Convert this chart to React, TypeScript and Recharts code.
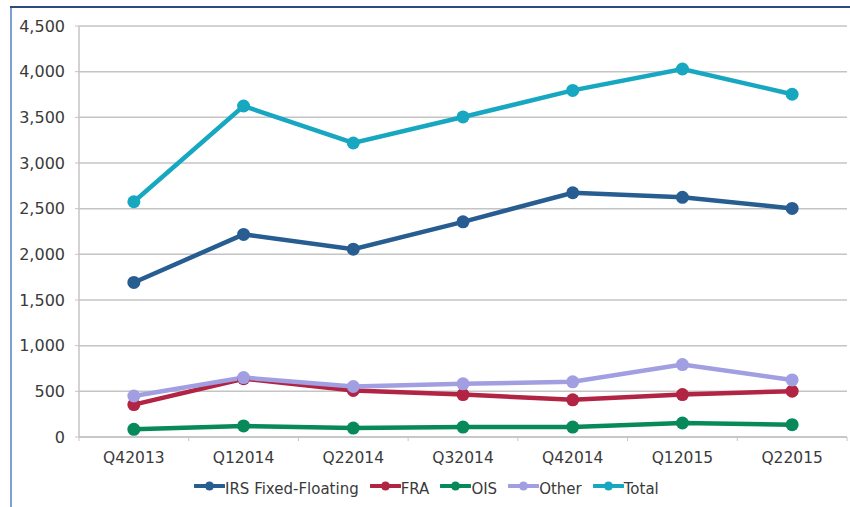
import React from 'react';
import { LineChart, Line, XAxis, YAxis, CartesianGrid, Legend } from 'recharts';

const quarters = ['Q42013', 'Q12014', 'Q22014', 'Q32014', 'Q42014', 'Q12015', 'Q22015'];
const irs = [1692, 2218, 2057, 2356, 2674, 2624, 2503];
const fra = [355, 638, 509, 465, 407, 465, 502];
const ois = [84, 121, 98, 109, 109, 153, 135];
const other = [449, 651, 553, 582, 604, 793, 625];
const total = [2576, 3624, 3219, 3504, 3795, 4029, 3753];
const yTicks = [0, 500, 1000, 1500, 2000, 2500, 3000, 3500, 4000, 4500];

const series = [
  { key: 'irs', name: 'IRS Fixed-Floating', color: '#275d91' },
  { key: 'fra', name: 'FRA', color: '#b12444' },
  { key: 'ois', name: 'OIS', color: '#07895a' },
  { key: 'other', name: 'Other', color: '#a19ee2' },
  { key: 'total', name: 'Total', color: '#17a7c0' },
];

// each quarter sits in the middle of its slot, slot edges get tick marks
const rows = quarters.map((q, i) => ({
  pos: i + 0.5,
  quarter: q,
  irs: irs[i],
  fra: fra[i],
  ois: ois[i],
  other: other[i],
  total: total[i],
}));
const xTicks: number[] = [];
for (let i = 0; i <= quarters.length * 2; i++) xTicks.push(i / 2);

const FONT = '"DejaVu Sans", sans-serif';
const TEXT = '#3a3a3a';
const GRID = '#c4c4c4';

const XTick = (props: any) => {
  const { x, y, payload } = props;
  const v = payload.value as number;
  if (Number.isInteger(v)) {
    return <line x1={x} x2={x} y1={y - 4} y2={y} stroke={GRID} strokeWidth={1} />;
  }
  return (
    <text x={x} y={y + 11} dy="0.71em" textAnchor="middle" fill={TEXT} fontSize={15.5} fontFamily={FONT}>
      {quarters[Math.floor(v)]}
    </text>
  );
};

const LegendBox = () => (
  <div style={{ display: 'flex', alignItems: 'center', gap: 11, fontFamily: FONT, fontSize: 15, color: TEXT }}>
    {series.map((s) => (
      <div key={s.key} style={{ display: 'flex', alignItems: 'center' }}>
        <svg width={31} height={14} style={{ marginTop: -6 }}>
          <line x1={1} x2={30} y1={7} y2={7} stroke={s.color} strokeWidth={4} strokeLinecap="round" />
          <circle cx={15.5} cy={7} r={4.5} fill={s.color} />
        </svg>
        <span>{s.name}</span>
      </div>
    ))}
  </div>
);

export default function App() {
  return (
    <div style={{ position: 'absolute', left: 0, top: 0, width: 850, height: 507, background: '#fff' }}>
      <div style={{ position: 'absolute', left: 10, top: 7, width: 2, height: 500, background: '#7e9fd0' }} />
      <div style={{ position: 'absolute', left: 10, top: 6, width: 840, height: 2, background: '#2b4a82' }} />
      <LineChart
        width={850}
        height={507}
        data={rows}
        margin={{ top: 26, right: 3, left: 0, bottom: 30 }}
        style={{ position: 'absolute', left: 0, top: 0 }}
      >
        <CartesianGrid vertical={false} stroke={GRID} strokeWidth={1.5} />
        <XAxis
          dataKey="pos"
          type="number"
          domain={[0, quarters.length]}
          ticks={xTicks}
          interval={0}
          height={40}
          tickSize={4}
          tickMargin={0}
          tickLine={false}
          axisLine={{ stroke: GRID, strokeWidth: 1.5 }}
          tick={<XTick />}
        />
        <YAxis
          width={79}
          domain={[0, 4500]}
          ticks={yTicks}
          interval={0}
          tickSize={4}
          tickMargin={10}
          tickFormatter={(v: number) => v.toLocaleString('en-US')}
          tick={{ fill: TEXT, fontSize: 16, fontFamily: FONT }}
          tickLine={{ stroke: GRID }}
          axisLine={{ stroke: GRID, strokeWidth: 1.5 }}
        />
        <Legend
          layout="horizontal"
          verticalAlign="middle"
          align="center"
          content={<LegendBox />}
          wrapperStyle={{ left: 194, top: 480, width: 'auto' }}
        />
        {series.map((s) => (
          <Line
            key={s.key}
            dataKey={s.key}
            name={s.name}
            type="linear"
            stroke={s.color}
            strokeWidth={4.5}
            dot={{ r: 6.5, fill: s.color, stroke: 'none' }}
            activeDot={false}
            isAnimationActive={false}
          />
        ))}
      </LineChart>
    </div>
  );
}
